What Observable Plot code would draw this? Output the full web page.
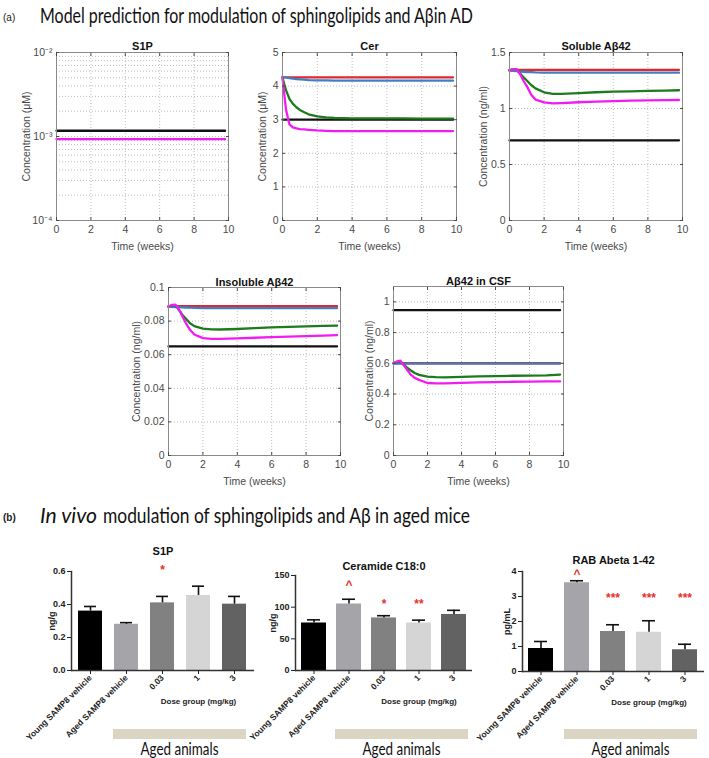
<!DOCTYPE html>
<html><head><meta charset="utf-8">
<script src="https://cdn.jsdelivr.net/npm/d3@7"></script>
<script src="https://cdn.jsdelivr.net/npm/@observablehq/plot@0.6"></script>
<style>
body{margin:0;background:#fff}
#root{position:relative;width:709px;height:758px;overflow:hidden;background:#fff}
</style></head><body><div id="root"></div>
<script>
// ---------- model prediction data (time in weeks) ----------
const weeks = [0,0.2,0.4,0.6,0.8,1,1.25,1.5,2,2.5,3,4,5,6,7,8,9,9.8];
const flatWeeks = [0, 9.8];

const s1pBlack = [1.17e-3, 1.17e-3];
const s1pMagenta = [0.93e-3, 0.93e-3];

const cerBlack = [3.0, 3.0];
const cerRed = [4.26, 4.26];
const cerBlue = [4.27,4.26,4.24,4.22,4.21,4.2,4.19,4.18,4.17,4.17,4.16,4.16,4.16,4.16,4.16,4.16,4.16,4.16];
const cerGreen = [4.25,3.88,3.62,3.47,3.37,3.29,3.22,3.16,3.1,3.07,3.05,3.04,3.04,3.04,3.04,3.03,3.03,3.03];
const cerMagenta = [4.25,3.3,2.86,2.77,2.74,2.72,2.71,2.7,2.68,2.67,2.66,2.66,2.66,2.66,2.66,2.66,2.66,2.66];

const solBlack = [0.716, 0.716];
const solRed = [1.345, 1.345];
const solBlue = [1.338,1.336,1.333,1.33,1.328,1.326,1.324,1.322,1.32,1.32,1.32,1.32,1.32,1.32,1.32,1.32,1.32,1.32];
const solGreen = [1.34,1.35,1.35,1.315,1.28,1.25,1.21,1.18,1.145,1.13,1.13,1.138,1.145,1.15,1.153,1.157,1.16,1.163];
const solMagenta = [1.34,1.35,1.352,1.31,1.25,1.2,1.125,1.08,1.055,1.045,1.048,1.056,1.062,1.066,1.07,1.073,1.075,1.076];

const insBlack = [0.065, 0.065];
const insRed = [0.0889, 0.0889];
const insBlue = [0.0886,0.0885,0.0884,0.0883,0.0882,0.0881,0.088,0.0879,0.0877,0.0877,0.0877,0.0877,0.0877,0.0877,0.0877,0.0877,0.0877,0.0877];
const insGreen = [0.0885,0.0893,0.0895,0.0867,0.0838,0.0815,0.0787,0.077,0.0755,0.0751,0.075,0.0753,0.0758,0.0763,0.0766,0.0769,0.0771,0.0773];
const insMagenta = [0.0885,0.0897,0.0898,0.0872,0.083,0.079,0.0748,0.072,0.0699,0.0694,0.0694,0.0697,0.0701,0.0705,0.0708,0.0711,0.0714,0.0716];

const csfBlack = [0.946, 0.946];
const csfRed = [0.601, 0.601];
const csfBlue = [0.598, 0.598];
const csfGreen = [0.6,0.608,0.612,0.592,0.572,0.555,0.537,0.525,0.513,0.51,0.509,0.512,0.515,0.517,0.519,0.52,0.522,0.527];
const csfMagenta = [0.6,0.612,0.617,0.588,0.558,0.528,0.505,0.492,0.472,0.47,0.47,0.473,0.476,0.478,0.48,0.481,0.482,0.483];

const lineColors = {black:"#111111", red:"#e3262b", blue:"#3e7fc6", green:"#1d7a1d", magenta:"#f21cf2"};
const timeTicks = [0,2,4,6,8,10];

// ---------- in vivo data ----------
const groups = ["Young SAMP8 vehicle","Aged SAMP8 vehicle","0.03","1","3"];
const barFill = ["#000000","#a5a5a9","#818181","#d5d5d5","#626262"];

const s1pMean = [0.36, 0.28, 0.41, 0.455, 0.402];
const s1pSem  = [0.028, 0.01, 0.039, 0.056, 0.047];
const s1pSig  = ["", "", "*", "", ""];
const s1pSigY = [null, null, 0.61, null, null];

const ceramMean = [75, 105, 83, 75, 88.5];
const ceramSem  = [5, 7.5, 3.5, 4.5, 6.5];
const ceramSig  = ["", "^", "*", "**", ""];
const ceramSigY = [null, 134, 104, 104, null];

const rabMean = [0.92, 3.55, 1.6, 1.57, 0.87];
const rabSem  = [0.28, 0.08, 0.27, 0.46, 0.22];
const rabSig  = ["", "^", "***", "***", "***"];
const rabSigY = [null, 3.88, 2.95, 2.95, 2.95];

// ---------- layout helpers ----------
const root = document.getElementById("root");
function place(node, left, top) {
  node.style.position = "absolute";
  node.style.left = left + "px";
  node.style.top = top + "px";
  root.appendChild(node);
}
function seriesLine(values, color) {
  const t = values.length === 2 ? flatWeeks : weeks;
  return Plot.line(values, {x: (d, i) => t[i], y: d => d, stroke: lineColors[color], strokeWidth: 2.3});
}

function modelPanel(p) {
  const ml = 62, mr = 10, mt = 24, mb = 38;
  const W = p.R - p.L + ml + mr, H = p.B - p.T + mt + mb;
  const gridStyle = {stroke: "#bdbdbd", strokeOpacity: 1, strokeDasharray: "1,2"};
  const chart = Plot.plot({
    width: W, height: H,
    marginLeft: ml, marginRight: mr, marginTop: mt, marginBottom: mb,
    style: {fontFamily: "'Liberation Sans', Arial, sans-serif", color: "#4a4a4a", background: "transparent", overflow: "visible"},
    x: {domain: [0, 10]},
    y: {domain: p.yDomain, type: p.yType || "linear"},
    marks: [
      Plot.gridX([2,4,6,8], gridStyle),
      Plot.gridY(p.grid, gridStyle),
      ...p.series.map(([vals, col]) => seriesLine(vals, col)),
      Plot.frame({stroke: "#8a8a8a"}),
      Plot.axisX({ticks: timeTicks, tickSize: -3, tickPadding: 8, fontSize: 10.5, label: "Time (weeks)", labelAnchor: "center", labelOffset: 29, labelArrow: "none"}),
      Plot.axisX({anchor: "top", ticks: timeTicks, tickSize: -3, tickFormat: () => "", label: null}),
      Plot.axisY({ticks: p.yTicks, tickFormat: p.yFormat, tickSize: -3, tickPadding: 7, fontSize: 10.5, label: p.ylabel, labelAnchor: "center", labelOffset: p.labelOffset, labelArrow: "none"}),
      Plot.axisY({anchor: "right", ticks: p.yTicks, tickSize: -3, tickFormat: () => "", label: null}),
      Plot.text([p.title], {frameAnchor: "top", dy: p.titleDy, fontWeight: "bold", fontSize: 11, fill: "#111"})
    ]
  });
  place(chart, p.L - ml, p.T - mt);
}

function barPanel(p) {
  const ml = 60, mr = 10, mt = 40, mb = 92;
  const W = p.R - p.L + ml + mr, H = p.B - p.T + mt + mb;
  const rows = groups.map((g, i) => ({g, v: p.mean[i], e: p.sem[i], s: p.sig[i], sy: p.sigY[i]}));
  const chart = Plot.plot({
    width: W, height: H,
    marginLeft: ml, marginRight: mr, marginTop: mt, marginBottom: mb,
    style: {fontFamily: "'Liberation Sans', Arial, sans-serif", fontWeight: "bold", color: "#222", background: "transparent", overflow: "visible"},
    x: {domain: groups, paddingInner: p.padIn, paddingOuter: p.padOut},
    y: {domain: p.yDomain},
    color: {domain: groups, range: barFill},
    marks: [
      Plot.barY(rows, {x: "g", y: "v", fill: "g"}),
      Plot.ruleX(rows, {x: "g", y1: "v", y2: d => d.v + d.e, stroke: "#111", strokeWidth: 1.6}),
      Plot.tickY(rows, {x: "g", y: d => d.v + d.e, insetLeft: 6, insetRight: 6, stroke: "#111", strokeWidth: 1.6}),
      Plot.text(rows.filter(d => d.s), {x: "g", y: "sy", text: "s", fill: "#e8302c", fontSize: 12}),
      Plot.ruleY([0], {stroke: "#333", strokeWidth: 1.5}),
      Plot.frame({anchor: "left", stroke: "#333", strokeWidth: 1.5}),
      Plot.axisY({ticks: p.yTicks, tickFormat: p.yFormat, tickSize: 4, tickPadding: 2, fontSize: 9, label: p.ylabel, labelAnchor: "center", labelOffset: p.labelOffset, labelArrow: "none"}),
      Plot.axisX({tickSize: 4, tickPadding: 2, tickRotate: -45, fontSize: 8.5, label: null}),
      Plot.text([p.title], {frameAnchor: "top", dy: p.titleDy, fontSize: 11, fill: "#111"}),
      Plot.text(["Dose group (mg/kg)"], {x: () => "1", frameAnchor: "bottom", dy: 33, fontSize: 8, fill: "#222"})
    ]
  });
  place(chart, p.L - ml, p.T - mt);
}

// ---------- panels (a) ----------
const decadeGrid = [2e-4,3e-4,4e-4,5e-4,6e-4,7e-4,8e-4,9e-4,1e-3,2e-3,3e-3,4e-3,5e-3,6e-3,7e-3,8e-3,9e-3];
const logLabels = new Map([[1e-4, "10\u207B\u2074"], [1e-3, "10\u207B\u00B3"], [1e-2, "10\u207B\u00B2"]]);

modelPanel({L: 56, T: 52, R: 228, B: 220, title: "S1P", titleDy: -10, ylabel: "Concentration (\u03BCM)", labelOffset: 34,
  yDomain: [1e-4, 1e-2], yType: "log", yTicks: [1e-4, 1e-3, 1e-2], yFormat: d => logLabels.get(d), grid: decadeGrid,
  series: [[s1pBlack, "black"], [s1pMagenta, "magenta"]]});
modelPanel({L: 282, T: 52, R: 456, B: 220, title: "Cer", titleDy: -10, ylabel: "Concentration (\u03BCM)", labelOffset: 24,
  yDomain: [0, 5], yTicks: [0,1,2,3,4,5], yFormat: d => String(d), grid: [1,2,3,4],
  series: [[cerBlack, "black"], [cerRed, "red"], [cerBlue, "blue"], [cerGreen, "green"], [cerMagenta, "magenta"]]});
modelPanel({L: 509, T: 52, R: 682, B: 220, title: "Soluble A\u03B242", titleDy: -10, ylabel: "Concentration (ng/ml)", labelOffset: 30,
  yDomain: [0, 1.5], yTicks: [0, 0.5, 1, 1.5], yFormat: d => String(d), grid: [0.5, 1],
  series: [[solBlack, "black"], [solRed, "red"], [solBlue, "blue"], [solGreen, "green"], [solMagenta, "magenta"]]});
modelPanel({L: 168, T: 287, R: 340, B: 455, title: "Insoluble A\u03B242", titleDy: -9, ylabel: "Concentration (ng/ml)", labelOffset: 36,
  yDomain: [0, 0.1], yTicks: [0, 0.02, 0.04, 0.06, 0.08, 0.1], yFormat: d => String(d), grid: [0.02, 0.04, 0.06, 0.08],
  series: [[insBlack, "black"], [insRed, "red"], [insBlue, "blue"], [insGreen, "green"], [insMagenta, "magenta"]]});
modelPanel({L: 393, T: 286, R: 563, B: 455, title: "A\u03B242 in CSF", titleDy: -9, ylabel: "Concentration (ng/ml)", labelOffset: 28,
  yDomain: [0, 1.1], yTicks: [0, 0.2, 0.4, 0.6, 0.8, 1], yFormat: d => String(d), grid: [0.2, 0.4, 0.6, 0.8, 1],
  series: [[csfBlack, "black"], [csfRed, "red"], [csfBlue, "blue"], [csfGreen, "green"], [csfMagenta, "magenta"]]});

// ---------- panels (b) ----------
barPanel({L: 71, T: 571, R: 254, B: 670, padIn: 0.32, padOut: 0.16, title: "S1P", titleDy: -24, ylabel: "ng/g", labelOffset: 23,
  yDomain: [0, 0.6], yTicks: [0, 0.2, 0.4, 0.6], yFormat: d3.format(".1f"), mean: s1pMean, sem: s1pSem, sig: s1pSig, sigY: s1pSigY});
barPanel({L: 295, T: 575, R: 472, B: 670, padIn: 0.3, padOut: 0.14, title: "Ceramide C18:0", titleDy: -13, ylabel: "ng/g", labelOffset: 26,
  yDomain: [0, 150], yTicks: [0, 50, 100, 150], yFormat: d => String(d), mean: ceramMean, sem: ceramSem, sig: ceramSig, sigY: ceramSigY});
barPanel({L: 522, T: 571, R: 704, B: 671, padIn: 0.3, padOut: 0.14, title: "RAB Abeta 1-42", titleDy: -15, ylabel: "pg/mL", labelOffset: 19,
  yDomain: [0, 4], yTicks: [0, 1, 2, 3, 4], yFormat: d => String(d), mean: rabMean, sem: rabSem, sig: rabSig, sigY: rabSigY});

// ---------- headings & annotations overlay ----------
const ov = d3.create("svg").attr("width", 709).attr("height", 758)
  .style("position", "absolute").style("left", "0px").style("top", "0px").style("pointer-events", "none");
ov.append("text").attr("x", 3).attr("y", 21).attr("font-family", "'Liberation Sans', Arial, sans-serif").attr("font-size", 10).attr("fill", "#222").text("(a)");
ov.append("text").attr("x", 40).attr("y", 23).attr("font-family", "Lato, 'Open Sans', sans-serif").attr("font-size", 21).attr("fill", "#111")
  .attr("textLength", 433).attr("lengthAdjust", "spacingAndGlyphs").text("Model prediction for modulation of sphingolipids and A\u03B2in AD");
ov.append("text").attr("x", 3).attr("y", 521).attr("font-family", "'Liberation Sans', Arial, sans-serif").attr("font-size", 10).attr("font-weight", "bold").attr("fill", "#222").text("(b)");
ov.append("text").attr("x", 40).attr("y", 523).attr("font-family", "Lato, 'Open Sans', sans-serif").attr("font-size", 21).attr("fill", "#111")
  .attr("font-style", "italic").attr("textLength", 57).attr("lengthAdjust", "spacingAndGlyphs").text("In vivo");
ov.append("text").attr("x", 103).attr("y", 523).attr("font-family", "Lato, 'Open Sans', sans-serif").attr("font-size", 21).attr("fill", "#111")
  .attr("textLength", 367).attr("lengthAdjust", "spacingAndGlyphs").text("modulation of sphingolipids and A\u03B2 in aged mice");

const bands = [[113, 246], [335, 468], [564, 697]];
bands.forEach(([a, b]) => {
  ov.append("rect").attr("x", a).attr("y", 729).attr("width", b - a).attr("height", 10).attr("fill", "#dbd6c3");
  ov.append("text").attr("x", (a + b) / 2).attr("y", 755).attr("text-anchor", "middle")
    .attr("font-family", "Lato, 'Open Sans', sans-serif").attr("font-size", 17).attr("fill", "#111")
    .attr("textLength", 78).attr("lengthAdjust", "spacingAndGlyphs").text("Aged animals");
});
root.appendChild(ov.node());
</script>
</body></html>
